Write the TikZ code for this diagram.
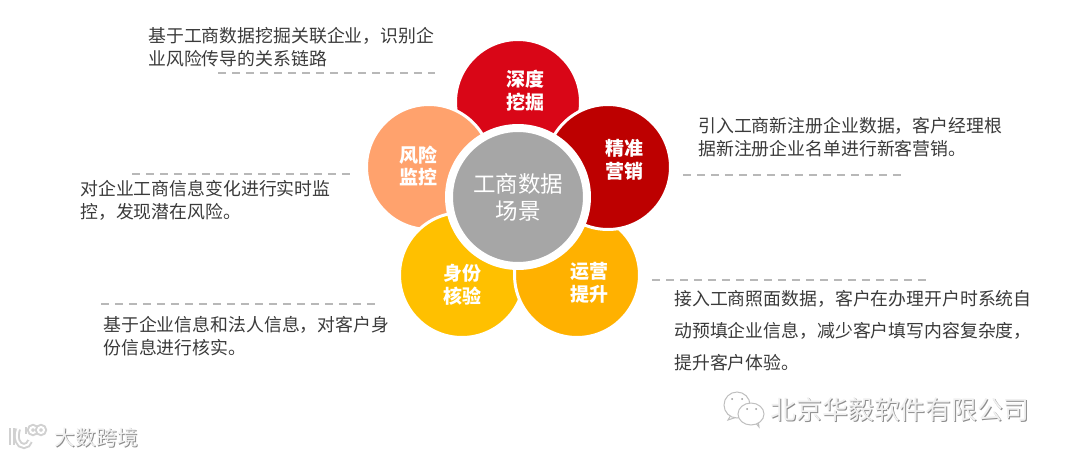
\documentclass[tikz,border=0pt]{standalone}
\usepackage{fontspec}
\setmainfont{Noto Sans CJK SC}
\definecolor{deeptext}{HTML}{3A3A3A}
\definecolor{redA}{HTML}{D90617}
\definecolor{redB}{HTML}{BD0000}
\definecolor{amberA}{HTML}{FFB100}
\definecolor{amberB}{HTML}{FFC000}
\definecolor{peach}{HTML}{FFA26D}
\tikzset{
	petal/.style={circle, draw=white, line width=.06cm, minimum size=2.5cm, inner sep=0pt},
	hub/.style={circle, draw=white, fill=black!35, line width=.16cm, minimum size=2.76cm, inner sep=0pt},
	petaltext/.style={white, align=center, font=\fontsize{10.8}{13}\selectfont\bfseries},
	hubtext/.style={white, align=center, font=\fontsize{12.8}{15.3}\selectfont},
	sidetext/.style={deeptext, anchor=west, align=left, inner sep=0pt, font=\fontsize{10.17}{13}\selectfont},
	sidewide/.style={sidetext, font=\fontsize{10.17}{18.2}\selectfont},
	rule/.style={black!28, line width=.04cm, dash pattern=on .16cm off .12cm},
	markshade/.style={black!45, anchor=west, inner sep=0pt},
	marklight/.style={black!6, anchor=west, inner sep=0pt},
	bubble/.style={draw=black!25, fill=white, line width=.02cm},
	logoline/.style={draw=black!18, double=white, line width=.04cm, double distance=.04cm}
}
\begin{document}
\begin{tikzpicture}[x=.02cm, y=-.02cm]
	\useasboundingbox (0,0) rectangle (1065,457);

	% petals, last one on top
	\node[petal, fill=redA] (deep) at (518,102){};
	\node[petal, fill=peach] (risk) at (429,167){};
	\node[petal, fill=amberB] (identity) at (462,275){};
	\node[petal, fill=amberA] (operate) at (577,275){};
	\node[petal, fill=redB] (market) at (608,167){};
	\node[hub] (hub) at (518,197){};

	\node[petaltext] (deepT) at (525,91){深度\\挖掘};
	\node[petaltext] (marketT) at (624,160){精准\\营销};
	\node[petaltext] (operateT) at (589,283){运营\\提升};
	\node[petaltext] (identityT) at (462,285){身份\\核验};
	\node[petaltext] (riskT) at (418,166){风险\\监控};
	\node[hubtext] (hubT) at (518,197){工商数据\\场景};

	% side notes
	\draw[rule] (218,73) -- (435,73);
	\node[sidetext] (noteDeep) at (148,47){基于工商数据挖掘关联企业，识别企\\业风险传导的关系链路};
	\draw[rule] (683,175) -- (902,175);
	\node[sidetext] (noteMarket) at (698,137){引入工商新注册企业数据，客户经理根\\据新注册企业名单进行新客营销。};
	\draw[rule] (132,174) -- (350,174);
	\node[sidetext] (noteRisk) at (80,200.5){对企业工商信息变化进行实时监\\控，发现潜在风险。};
	\draw[rule] (652,280) -- (926,280);
	\node[sidewide] (noteOperate) at (674,331){接入工商照面数据，客户在办理开户时系统自\\动预填企业信息，减少客户填写内容复杂度，\\提升客户体验。};
	\draw[rule] (101,304) -- (376,304);
	\node[sidetext] (noteIdentity) at (103,336.5){基于企业信息和法人信息，对客户身\\份信息进行核实。};

	% watermarks
	\node[markshade, font=\fontsize{14.7}{17}\selectfont] (companyS) at (771.5,410.5){北京华毅软件有限公司};
	\node[marklight, font=\fontsize{14.7}{17}\selectfont] (company) at (770.5,409.5){北京华毅软件有限公司};
	\node[markshade, font=\fontsize{11.8}{14}\selectfont] (brandS) at (55.5,438.5){大数跨境};
	\node[marklight, font=\fontsize{11.8}{14}\selectfont] (brand) at (54.5,437.5){大数跨境};

	\draw[bubble] (731,415) -- (728,420) -- (737,417);
	\draw[bubble] (737,405) ellipse (13 and 13);
	\draw[bubble] (754,421) -- (759,427) -- (758,419);
	\draw[bubble] (751,414) ellipse (13 and 11);
	\fill[black!40] (732,399) circle (1) (742,399) circle (1) (747,409) circle (1) (756,409) circle (1);

	\draw[logoline] (12,428) -- (12,445);
	\draw[logoline] (18,429) .. controls (15,438) and (18,446) .. (24,446) .. controls (27,446) and (29,444) .. (30,441);
	\draw[logoline] (28,427) -- (28,434);
	\draw[logoline] (33,430) circle (3);
	\draw[logoline] (41,430) circle (3);
\end{tikzpicture}
\end{document}
